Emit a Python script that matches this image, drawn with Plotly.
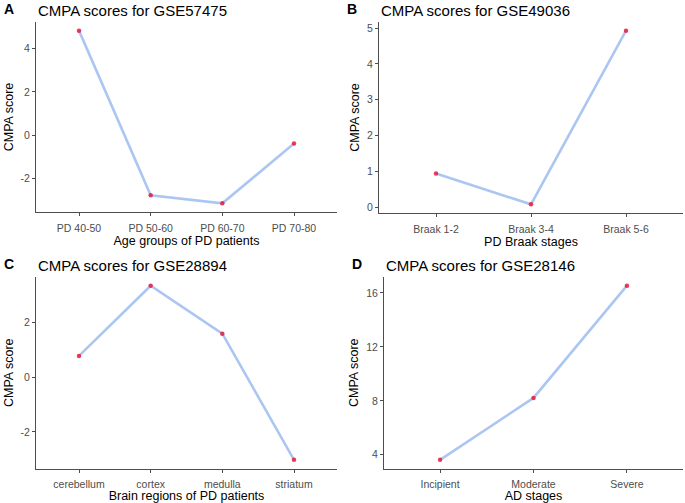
import plotly.graph_objects as go

# data
age_groups = ["PD 40-50", "PD 50-60", "PD 60-70", "PD 70-80"]
scores_a = [4.82, -2.76, -3.13, -0.38]

braak_stages = ["Braak 1-2", "Braak 3-4", "Braak 5-6"]
scores_b = [0.94, 0.08, 4.93]

brain_regions = ["cerebellum", "cortex", "medulla", "striatum"]
scores_c = [0.77, 3.33, 1.58, -3.02]

ad_stages = ["Incipient", "Moderate", "Severe"]
scores_d = [3.63, 8.22, 16.54]

titles = ["CMPA scores for GSE57475", "CMPA scores for GSE49036",
          "CMPA scores for GSE28894", "CMPA scores for GSE28146"]
xtitles = ["Age groups of PD patients", "PD Braak stages",
           "Brain regions of PD patients", "AD stages"]
letters = ["A", "B", "C", "D"]
ytick_vals = [[-2, 0, 2, 4], [0, 1, 2, 3, 4, 5], [-2, 0, 2], [4, 8, 12, 16]]

panels = [(age_groups, scores_a), (braak_stages, scores_b),
          (brain_regions, scores_c), (ad_stages, scores_d)]

W, H = 685, 503
# pixel boxes of the plot areas: (left, right, top, bottom)
boxes = [(36, 337, 22, 212), (379, 683, 22, 213),
         (36, 337, 277, 468.5), (384, 683, 277, 468.5)]

fig = go.Figure()
axis_col = "#4d4d4d"
font = "Liberation Sans, Arial, sans-serif"

for i, ((cats, vals), box) in enumerate(zip(panels, boxes)):
    n = i + 1
    xa = "x" if n == 1 else f"x{n}"
    ya = "y" if n == 1 else f"y{n}"
    xs = list(range(len(cats)))
    fig.add_trace(go.Scatter(x=xs, y=vals, mode="lines", xaxis=xa, yaxis=ya,
                             line=dict(color="rgba(95,145,230,0.52)", width=2.6),
                             showlegend=False))
    fig.add_trace(go.Scatter(x=xs, y=vals, mode="markers", xaxis=xa, yaxis=ya,
                             marker=dict(color="rgba(232,25,58,0.85)", size=4.5),
                             showlegend=False, hoverinfo="skip"))
    lo, hi = min(vals), max(vals)
    pad = (hi - lo) * 0.05
    l, r, t, b = box
    fig.layout[f"xaxis{'' if n == 1 else n}"] = dict(
        domain=[l / W, r / W], anchor=ya, range=[-0.6, len(cats) - 0.4],
        tickvals=xs, ticktext=cats, showgrid=False, zeroline=False,
        showline=True, linecolor=axis_col, linewidth=1, ticks="outside",
        ticklen=3, tickcolor=axis_col, ticklabelstandoff=3,
        tickfont=dict(size=10.5, color=axis_col, family=font),
        title=dict(text=xtitles[i], font=dict(size=12.5, color="black", family=font), standoff=3),
    )
    fig.layout[f"yaxis{'' if n == 1 else n}"] = dict(
        domain=[1 - b / H, 1 - t / H], anchor=xa, range=[lo - pad, hi + pad],
        tickvals=ytick_vals[i], ticktext=[str(v) for v in ytick_vals[i]],
        showgrid=False, zeroline=False,
        showline=True, linecolor=axis_col, linewidth=1, ticks="outside",
        ticklen=3, tickcolor=axis_col, tickfont=dict(size=10.5, color=axis_col, family=font),
        title=dict(text="CMPA score", font=dict(size=12.5, color="black", family=font), standoff=4),
    )
    fig.add_annotation(text=titles[i], xref="paper", yref="paper",
                       x=(l + 0) / W, y=1 - (t - 12) / H, xanchor="left", yanchor="middle",
                       showarrow=False, font=dict(size=15, color="black", family=font))
    fig.add_annotation(text=f"<b>{letters[i]}</b>", xref="paper", yref="paper",
                       x=(l - 34) / W, y=1 - (t - 13) / H, xanchor="left", yanchor="middle",
                       showarrow=False, font=dict(size=14, color="black", family=font))

fig.update_layout(width=W, height=H, margin=dict(l=0, r=0, t=0, b=0),
                  plot_bgcolor="white", paper_bgcolor="white")

# the page's default body margin would shift the figure
fig.write_html("out.html", config={"displayModeBar": False},
               post_script="document.body.style.margin='0';")
